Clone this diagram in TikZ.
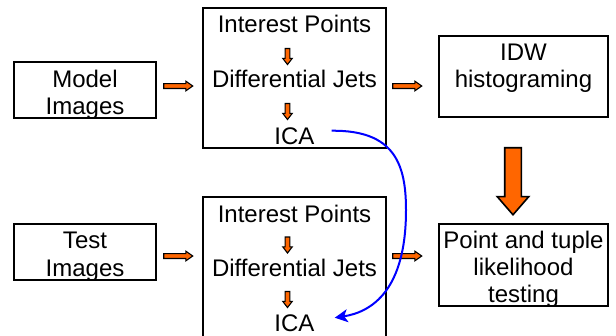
\documentclass[tikz,border=0pt]{standalone}
\usepackage{fontspec}
\setmainfont{Liberation Sans}
\usetikzlibrary{shapes.arrows,arrows.meta,calc}
\definecolor{arroworange}{HTML}{FF6600}
\definecolor{linkblue}{HTML}{0000FF}
\begin{document}
\begin{tikzpicture}[x=1pt,y=-1pt,
  box/.style={draw=black, line width=2pt, fill=white, inner sep=0pt,
    outer sep=0pt, anchor=north west},
  txt/.style={font=\fontsize{24}{27}\selectfont, inner sep=0pt, anchor=base},
  blockarrow/.style={single arrow, draw=black, fill=arroworange,
    minimum width=0pt, outer sep=0pt},
  harrow/.style={blockarrow, line width=1.1pt, inner sep=1.9pt,
    single arrow head extend=2.4pt, minimum height=29pt,
    single arrow tip angle=70},
  varrow/.style={blockarrow, line width=1.1pt, inner sep=1.8pt,
    single arrow head extend=2.4pt, single arrow tip angle=75,
    shape border rotate=270},
  bigarrow/.style={blockarrow, line width=1.6pt, inner sep=7.5pt,
    single arrow head extend=7.5pt, minimum height=67pt,
    single arrow tip angle=82, shape border rotate=270},
  link/.style={draw=linkblue, line width=2pt,
    -{Stealth[length=13pt,width=13pt,inset=3.5pt]}}]
\useasboundingbox (0,0) rectangle (616,335);
\clip (0,0) rectangle (616,335);

% boxes
\node[box, minimum width=142pt, minimum height=56pt] (model) at (14,62) {};
\node[box, minimum width=183pt, minimum height=140pt] (mid1) at (203,8) {};
\node[box, minimum width=169pt, minimum height=81pt] (idw) at (439,36) {};
\node[box, minimum width=142pt, minimum height=56pt] (test) at (14,224) {};
\node[box, minimum width=183pt, minimum height=150pt] (mid2) at (203,197) {};
\node[box, minimum width=169pt, minimum height=82pt] (plt) at (439,224) {};

% box texts
\node[txt] (model1) at (85,87) {Model};
\node[txt] (model2) at (85,114) {Images};
\node[txt] (test1) at (85,248) {Test};
\node[txt] (test2) at (85,276) {Images};
\node[txt] (idw1) at (523.5,60) {IDW};
\node[txt] (idw2) at (523.5,87) {histograming};
\node[txt] (plt1) at (523.5,248) {Point and tuple};
\node[txt] (plt2) at (523.5,275) {likelihood};
\node[txt] (plt3) at (523.5,302) {testing};

\node[txt] (ip1) at (294.5,32) {Interest Points};
\node[txt] (dj1) at (294.5,87) {Differential Jets};
\node[txt] (ica1) at (294.5,144) {ICA};
\node[txt] (ip2) at (294.5,222) {Interest Points};
\node[txt] (dj2) at (294.5,276) {Differential Jets};
\node[txt] (ica2) at (294.5,331) {ICA};

% block arrows between stages
\node[harrow] (a1) at (176.5,86) {};
\node[harrow] (a2) at (405.5,86) {};
\node[harrow] (a3) at (176.5,256) {};
\node[harrow] (a4) at (405.5,256) {};
\node[varrow, minimum height=16pt] (v1) at (287.5,55) {};
\node[varrow, minimum height=16pt] (v2) at (287.5,110) {};
\node[varrow, minimum height=16pt] (v3) at (287.5,243.5) {};
\node[varrow, minimum height=16pt] (v4) at (287.5,298) {};
\node[bigarrow] (big) at (513,176.5) {};

% link from the model ICA to the test ICA
\draw[link] ([xshift=17pt,yshift=5pt]ica1.east)
  .. controls (395,130) and (406,165) .. (406,210)
  .. controls (406,290) and (372,312) .. ([xshift=20pt,yshift=5pt]ica2.east);
\end{tikzpicture}
\end{document}
